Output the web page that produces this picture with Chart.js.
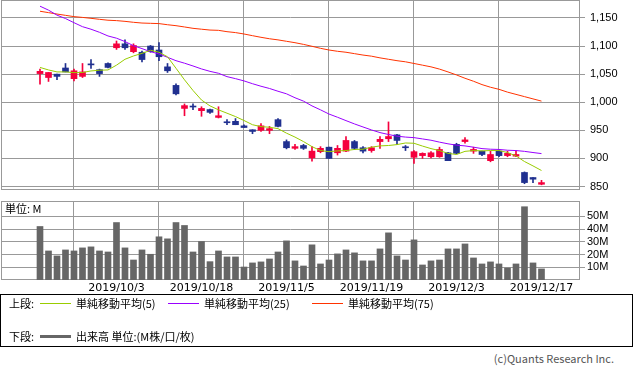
<!DOCTYPE html>
<html>
<head>
<meta charset="utf-8">
<script src="https://cdn.jsdelivr.net/npm/chart.js@4.4.0/dist/chart.umd.min.js"></script>
<style>
  body { margin: 0; background: #fff; width: 633px; height: 372px; position: relative; overflow: hidden;
         font-family: "DejaVu Sans", "Noto Sans CJK JP", sans-serif; font-size: 11px; color: #000; }
  canvas { position: absolute; left: 0; }
  #priceChart { top: 0; }
  #volChart { top: 190px; }
  .abs { position: absolute; white-space: nowrap; line-height: 14px; }
  .jp { font-family: "Noto Sans CJK JP", sans-serif; font-size: 11px; }
  .line { position: absolute; height: 1px; }
  #legendBox { position: absolute; left: 0; top: 294px; width: 631px; height: 51px; border: 1px solid #000; }
</style>
</head>
<body>
<canvas id="priceChart" width="633" height="192"></canvas>
<canvas id="volChart" width="633" height="104"></canvas>
<div class="abs jp" style="left:5px;top:201px;">単位: M</div>
<div id="legendBox"></div>
<div id="legend"></div>
<div class="abs jp" style="right:19px;top:351px;color:#555;">(c)Quants Research Inc.</div>

<script>
// trading days shown (2019)
const dates = [
  "2019/9/19","2019/9/20","2019/9/24","2019/9/25","2019/9/26","2019/9/27","2019/9/30","2019/10/1","2019/10/2","2019/10/3",
  "2019/10/4","2019/10/7","2019/10/8","2019/10/9","2019/10/10","2019/10/11","2019/10/15","2019/10/16","2019/10/17","2019/10/18",
  "2019/10/21","2019/10/23","2019/10/24","2019/10/25","2019/10/28","2019/10/29","2019/10/30","2019/10/31","2019/11/1","2019/11/5",
  "2019/11/6","2019/11/7","2019/11/8","2019/11/11","2019/11/12","2019/11/13","2019/11/14","2019/11/15","2019/11/18","2019/11/19",
  "2019/11/20","2019/11/21","2019/11/22","2019/11/25","2019/11/26","2019/11/27","2019/11/28","2019/11/29","2019/12/2","2019/12/3",
  "2019/12/4","2019/12/5","2019/12/6","2019/12/9","2019/12/10","2019/12/11","2019/12/12","2019/12/13","2019/12/16","2019/12/17"
];
const tickLabels = ["2019/10/3", "2019/10/18", "2019/11/5", "2019/11/19", "2019/12/3", "2019/12/17"];
const priceTicks = [850, 900, 950, 1000, 1050, 1100, 1150];
const volTicks = [10, 20, 30, 40, 50];

const opens  = [1051,1044,1050,1061,1042,1046,1067.5,1058,1069,1097, 1104,1090,1089,1100,1093,1063,1030,989,992.5,985,
                987,973,964.5,966,958,951,950,950,969,930, 918,923,901,912,920,910,913,930,919,914,
                930,935,942,920,902,905,903,903,910,925, 930,913,913,896,913,905,904,875,866,854];
const closes = [1055,1053,1046,1054,1056,1054,1066.5,1051,1062,1104, 1097,1101,1076,1090,1081,1056,1015,994,991.5,989,
                982,976,963.5,960,955,948,958,953,957,919, 921,918,913,918,900,918,932,918,913,919,
                934,939,932,919,912,909,910,916,896,909, 933,916,907,907,905,909,907,857,863,857];
const highs  = [1059,1053,1050,1069,1059,1069,1076,1059,1070,1109, 1111,1104,1091,1101,1106,1069,1033,997,997,992,
                988,992,969,971,960,951,962,957,971,933, 925,925,921,921,920,923,939,932,921,921,
                939,965,943,923,914,910,912,920,911,927, 937,920,913,913,914,913,913,876,866,861];
const lows   = [1032,1037,1040,1054,1038,1044,1060,1046,1061,1094, 1094,1088,1072,1089,1074,1053,1013,976,987,975,
                980,972,960,960,955,944,948,944,956,917, 916,916,895,910,900,906,912,916,910,911,
                918,930,925,914,891,900,901,902,896,908, 927,909,905,894,903,903,903,855,857,853];

const ma5  = [1062,1057.5,1054,1054,1052.7,1053,1055.7,1057,1057.5,1066, 1076.5,1082.4,1087,1092.5,1089,1081,1060.5,1040,1021,1004,
              993.5,986.5,980.5,974.5,967.5,960,956.6,955.5,953,945, 938,930,921,914,912,913.4,914,916,916.4,920,
              922.3,923,924.6,927.5,927,922,917.5,914,909,907, 912.6,914,913.4,914,914,910.5,904.5,894.5,886.7,878.5];
const ma25 = [1171,1164,1155,1149,1141.6,1134.5,1130,1124.5,1118,1114, 1108,1100.7,1095.5,1090,1086,1080,1074,1069.5,1064.6,1059.3,
              1055,1051.6,1045.6,1042,1038,1033,1028.5,1024.5,1019.6,1015, 1008,1002,993.5,986.5,979,973.3,967.3,961.4,956,950.7,
              946,942.6,939.6,938,937,934.7,932.4,929,926,923.6, 922.3,920,917.5,916.4,916,914.6,914,912.6,910.5,908.6];
const ma75 = [1162,1159.5,1157,1154.7,1152.4,1151,1149.4,1147.6,1146,1145.3, 1144,1142.3,1141,1140.5,1140,1138,1136.3,1134,1131.6,1130,
              1128.5,1128,1125.6,1124,1121.5,1118.5,1115.6,1113,1111,1108.5, 1106,1103,1099.6,1096,1093,1090.7,1089,1086.5,1084,1082,
              1079,1076.5,1074,1072,1069,1066,1063,1059,1054,1048.6, 1042.7,1037.4,1031.4,1026.7,1023,1018,1014,1010,1006,1002];

// volume, millions
const volumes = [42,22.8,18.9,23.6,22.8,25.2,26,22.8,22,45.1, 25.2,15.7,23.6,20.2,33.9,32.3,45.1,42.8,22,30.2,
                 14.4,22.8,18.1,18.1,10.2,13.4,14.2,16.5,22,30.7, 15,11,27.6,12.6,15.7,20.5,23.6,21.3,15,15,
                 24.4,37,18.9,15.7,31.5,11.8,15,15.7,24.4,24.4, 28.3,17.3,12.6,14.2,12.6,9.4,12.6,57.5,13.4,8.7];

const seriesNames = ["単純移動平均(5)", "単純移動平均(25)", "単純移動平均(75)"];
const seriesColors = ["#99cc00", "#9900ff", "#ff3300"];
const volumeName = "出来高 単位:(M株/口/枚)";

const UP = "#f5003d", DOWN = "#203090", GRID = "#999";
const xMin = -4.588, xMax = 63.53;
const tickIdx = tickLabels.map(d => dates.indexOf(d));

const candleColors = opens.map((o, i) => closes[i] >= o ? UP : DOWN);
const pts = arr => arr.map((v, i) => ({ x: i, y: v }));

Chart.defaults.font.family = "'DejaVu Sans', 'Noto Sans CJK JP', sans-serif";
Chart.defaults.font.size = 11;
Chart.defaults.color = "#000";

// frame round the plot area
const frame = {
  id: "frame",
  beforeDatasetsDraw(chart) {
    const a = chart.chartArea, ctx = chart.ctx;
    ctx.save();
    ctx.strokeStyle = GRID;
    ctx.lineWidth = 1;
    ctx.strokeRect(a.left + 0.5, a.top + 0.5, a.right - a.left - 1, a.bottom - a.top - 1);
    ctx.restore();
  }
};

function xScale(showLabels) {
  return {
    type: "linear", min: xMin, max: xMax, offset: false,
    afterBuildTicks: s => { s.ticks = tickIdx.map(v => ({ value: v })); },
    afterFit: s => { s.height = showLabels ? 14 : 2; s.paddingLeft = 0; s.paddingRight = 0; },
    ticks: { display: showLabels, padding: 2, maxRotation: 0, autoSkip: false,
             font: { size: 11 }, callback: v => dates[v] },
    grid: { color: GRID, drawTicks: false },
    border: { display: false }
  };
}

// price chart
new Chart(document.getElementById("priceChart"), {
  type: "bar",
  data: {
    datasets: [
      { type: "line", data: pts(ma5), borderColor: seriesColors[0], borderWidth: 1, pointRadius: 0, order: 0 },
      { type: "line", data: pts(ma25), borderColor: seriesColors[1], borderWidth: 1, pointRadius: 0, order: 0 },
      { type: "line", data: pts(ma75), borderColor: seriesColors[2], borderWidth: 1, pointRadius: 0, order: 0 },
      { data: opens.map((o, i) => ({ x: i, y: [o, closes[i]] })), backgroundColor: candleColors,
        barThickness: 6, minBarLength: 1, grouped: false, order: 1 },
      { data: lows.map((l, i) => ({ x: i, y: [l, highs[i]] })), backgroundColor: candleColors,
        barThickness: 1, grouped: false, order: 2 }
    ]
  },
  options: {
    responsive: false, animation: false,
    layout: { padding: { left: 1, top: 0, right: 0, bottom: 0 } },
    plugins: { legend: { display: false }, tooltip: { enabled: false } },
    scales: {
      x: xScale(false),
      y: {
        position: "right", min: 843.8, max: 1182,
        afterBuildTicks: s => { s.ticks = priceTicks.map(v => ({ value: v })); },
        afterFit: s => { s.width = 53; s.paddingTop = 0; s.paddingBottom = 0; },
        ticks: { padding: 5, font: { family: "'Liberation Sans', sans-serif", size: 11 },
                 callback: v => v.toLocaleString("en-US") },
        grid: { color: GRID, tickLength: 5 },
        border: { display: false }
      }
    }
  },
  plugins: [frame]
});

// volume chart
new Chart(document.getElementById("volChart"), {
  type: "bar",
  data: {
    datasets: [
      { data: pts(volumes), backgroundColor: "#666", barThickness: 6, grouped: false }
    ]
  },
  options: {
    responsive: false, animation: false,
    layout: { padding: { left: 1, top: 11, right: 0, bottom: 0 } },
    plugins: { legend: { display: false }, tooltip: { enabled: false } },
    scales: {
      x: xScale(true),
      y: {
        position: "right", min: 0, max: 62,
        afterBuildTicks: s => { s.ticks = volTicks.map(v => ({ value: v })); },
        afterFit: s => { s.width = 53; s.paddingTop = 0; s.paddingBottom = 0; },
        ticks: { padding: 2, font: { family: "'Liberation Sans', sans-serif", size: 11 },
                 callback: v => v + "M" },
        grid: { color: GRID, tickLength: 5 },
        border: { display: false }
      }
    }
  },
  plugins: [frame]
});

// legend
const legend = document.getElementById("legend");
function addText(txt, x, y) {
  const d = document.createElement("div");
  d.className = "abs jp";
  d.style.left = x + "px";
  d.style.top = (y - 7) + "px";
  d.textContent = txt;
  legend.appendChild(d);
}
function addLine(color, x, y, w, h) {
  const d = document.createElement("div");
  d.className = "line";
  d.style.left = x + "px";
  d.style.top = (y - Math.floor(h / 2)) + "px";
  d.style.width = w + "px";
  d.style.height = h + "px";
  d.style.background = color;
  legend.appendChild(d);
}
addText("上段:", 9, 303);
const legX = [40, 168, 312];
seriesNames.forEach((n, i) => {
  addLine(seriesColors[i], legX[i], 303, 31, 1);
  addText(n, legX[i] + 36, 303);
});
addText("下段:", 9, 336);
addLine("#666", 40, 336, 31, 3);
addText(volumeName, 76, 336);
</script>
</body>
</html>
